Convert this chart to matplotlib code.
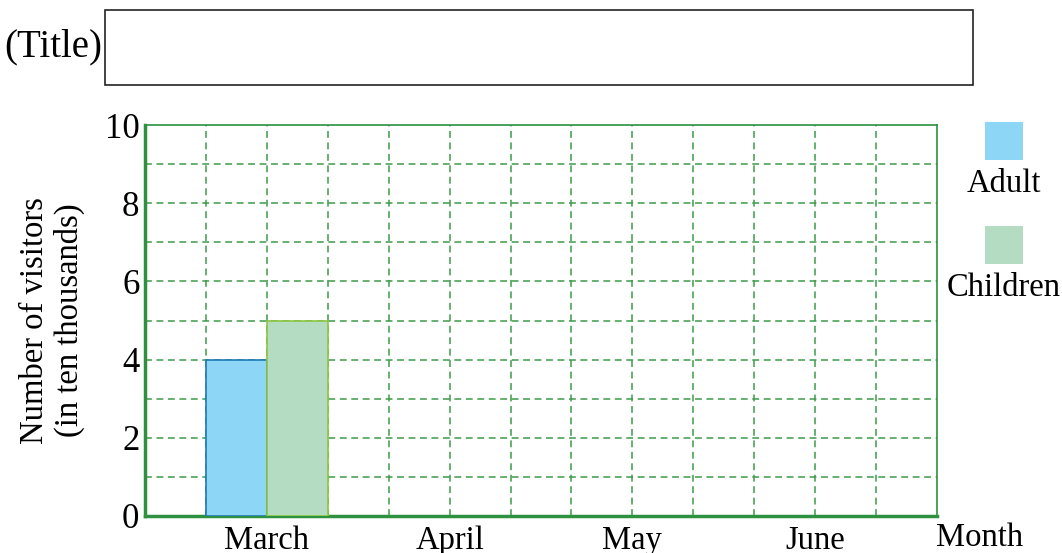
import numpy as np
import matplotlib.pyplot as plt
from matplotlib.patches import Rectangle

months = ['March', 'April', 'May', 'June']
adult = [4, np.nan, np.nan, np.nan]
children = [5, np.nan, np.nan, np.nan]
yticks = [0, 2, 4, 6, 8, 10]

plt.rcParams['font.family'] = ['Liberation Serif', 'DejaVu Serif']
grid_green = '#3d9a4a'
fs = 23.5

fig = plt.figure(figsize=(10.62, 5.53), dpi=100)
ax = fig.add_axes([145 / 1062, 37 / 553, 792 / 1062, 391 / 553])

# each month takes three columns: gap, adult, children
centers = np.arange(len(months)) * 3 + 2
ax.bar(centers - 0.5, adult, width=1, color='#8dd6f6', edgecolor='#1f7ab8', linewidth=1.2, zorder=3)
ax.bar(centers + 0.5, children, width=1, color='#b3dcc2', edgecolor='#8cc63f', linewidth=1.2, zorder=3)

ax.set_xlim(0, 13)
ax.set_ylim(0, 10)
for x in range(1, 13):
    ax.axvline(x, color=grid_green, linestyle=(0, (4.5, 3)), linewidth=1.1, zorder=1)
for y in range(1, 10):
    ax.axhline(y, color=grid_green, linestyle=(0, (4.5, 3)), linewidth=1.1, zorder=1)

ax.set_xticks(centers)
ax.set_xticklabels(months, fontsize=fs)
ax.set_yticks(yticks)
ax.set_yticklabels([str(v) for v in yticks], fontsize=25)
ax.tick_params(length=0)
ax.tick_params(axis='x', pad=7)
ax.tick_params(axis='y', pad=4)

for side in ['left', 'bottom']:
    ax.spines[side].set_color('#2e9140')
    ax.spines[side].set_linewidth(2.5)
for side in ['top', 'right']:
    ax.spines[side].set_color('#2e9140')
    ax.spines[side].set_linewidth(1.2)

ax.set_ylabel('Number of visitors\n(in ten thousands)', fontsize=fs, linespacing=1.15, labelpad=14)
fig.text(980 / 1062, 1 - 538 / 553, 'Month', fontsize=fs, ha='center', va='center')

# legend
fig.patches.append(Rectangle((985 / 1062, 1 - 160 / 553), 38 / 1062, 38 / 553,
                             transform=fig.transFigure, facecolor='#8dd6f6', edgecolor='none'))
fig.text(1004 / 1062, 1 - 184 / 553, 'Adult', fontsize=fs, ha='center', va='center')
fig.patches.append(Rectangle((985 / 1062, 1 - 264 / 553), 38 / 1062, 38 / 553,
                             transform=fig.transFigure, facecolor='#b3dcc2', edgecolor='none'))
fig.text(1004 / 1062, 1 - 288 / 553, 'Children', fontsize=fs, ha='center', va='center')

# title box
fig.patches.append(Rectangle((105 / 1062, 1 - 85 / 553), 868 / 1062, 75 / 553,
                             transform=fig.transFigure, facecolor='none', edgecolor='#222222', linewidth=1.2))
fig.text(53 / 1062, 1 - 47 / 553, '(Title)', fontsize=28, ha='center', va='center')

fig.savefig('out.png', dpi=100)
